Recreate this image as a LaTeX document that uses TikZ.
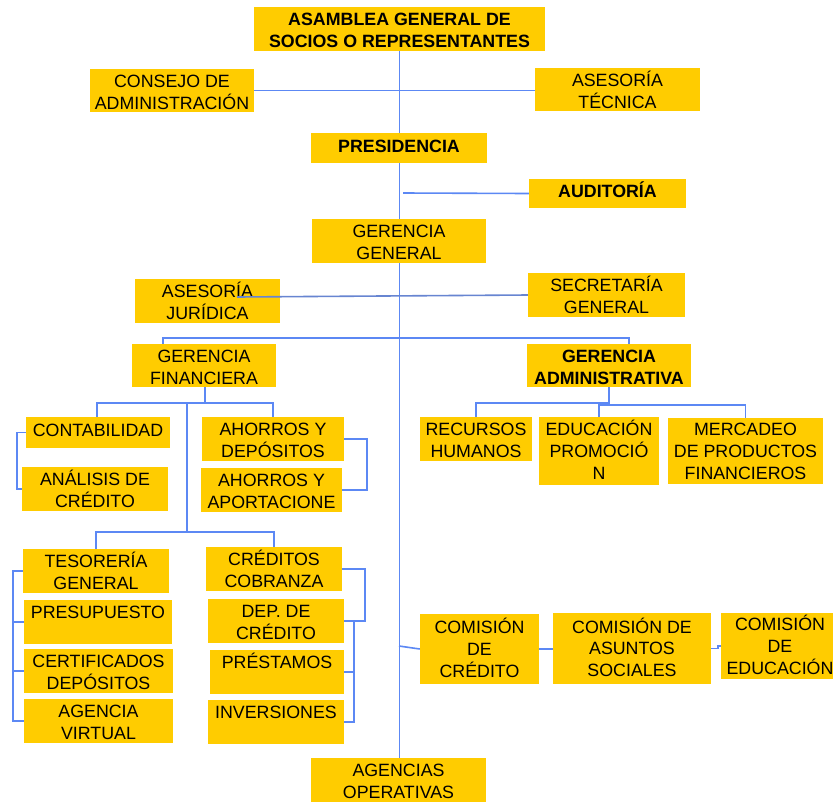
\documentclass[tikz,border=0pt]{standalone}
\usepackage{fontspec}
\setmainfont{Liberation Sans}
\usetikzlibrary{backgrounds}
\definecolor{boxyellow}{RGB}{255,204,0}
\definecolor{linkblue}{RGB}{92,136,244}
\begin{document}
\begin{tikzpicture}[x=1pt,y=-1pt,
  box/.style={fill=boxyellow, inner sep=0pt, align=center, text=black,
    font=\fontsize{17.8}{21.8}\selectfont, lines2},
  bbox/.style={box, font=\fontsize{17.8}{21.8}\selectfont\bfseries},
  % fixed text box sizes, so that every label sits at the same place in its box
  lines1/.style={text height=8.7pt, text depth=0pt},
  lines2/.style={text height=37.5pt, text depth=0pt},
  lines3/.style={text height=56.3pt, text depth=0pt},
  linetop/.style={text height=13.7pt, text depth=20pt},
  link/.style={draw=linkblue, line width=1.6pt}]
\useasboundingbox (0,0) rectangle (833,801);

% top levels
\node[bbox, minimum width=291pt, minimum height=44pt] (asamblea) at (399.5,29) {ASAMBLEA GENERAL DE\\SOCIOS O REPRESENTANTES};
\node[box, minimum width=164pt, minimum height=43pt] (consejo) at (172,90.5) {CONSEJO DE\\ADMINISTRACIÓN};
\node[box, minimum width=165pt, minimum height=43pt] (tecnica) at (617.5,89.5) {ASESORÍA\\TÉCNICA};
\node[bbox, lines1, minimum width=176pt, minimum height=30pt] (presidencia) at (399,148) {PRESIDENCIA};
\node[bbox, lines1, minimum width=157pt, minimum height=29pt] (auditoria) at (607.5,193.5) {AUDITORÍA};
\node[box, minimum width=174pt, minimum height=44pt] (gerencia) at (399,241) {GERENCIA\\GENERAL};
\node[box, minimum width=145pt, minimum height=44pt] (juridica) at (207.5,301) {ASESORÍA\\JURÍDICA};
\node[box, minimum width=157pt, minimum height=44pt] (secretaria) at (606.5,295) {SECRETARÍA\\GENERAL};
\node[box, minimum width=144pt, minimum height=43pt] (gfin) at (204,365.5) {GERENCIA\\FINANCIERA};
\node[bbox, minimum width=164pt, minimum height=43pt] (gadm) at (609,365.5) {GERENCIA\\ADMINISTRATIVA};

% financial branch
\node[box, lines1, minimum width=144pt, minimum height=31pt] (contab) at (98,432.5) {CONTABILIDAD};
\node[box, minimum width=146pt, minimum height=44pt] (analisis) at (95,489) {ANÁLISIS DE\\CRÉDITO};
\node[box, minimum width=142pt, minimum height=44pt] (ahorrosdep) at (273,439) {AHORROS Y\\DEPÓSITOS};
\node[box, minimum width=141pt, minimum height=44pt] (ahorrosap) at (271.5,490) {AHORROS Y\\APORTACIONE};
\node[box, minimum width=146pt, minimum height=44pt] (tesoreria) at (96,571) {TESORERÍA\\GENERAL};
\node[box, linetop, minimum width=148pt, minimum height=44pt] (presupuesto) at (98,622) {PRESUPUESTO};
\node[box, minimum width=149pt, minimum height=44pt] (certif) at (98.5,671) {CERTIFICADOS\\DEPÓSITOS};
\node[box, minimum width=149pt, minimum height=44pt] (agvirtual) at (98.5,721) {AGENCIA\\VIRTUAL};
\node[box, minimum width=136pt, minimum height=44pt] (creditos) at (274,569) {CRÉDITOS\\COBRANZA};
\node[box, minimum width=136pt, minimum height=44pt] (depcred) at (276,621) {DEP. DE\\CRÉDITO};
\node[box, linetop, minimum width=134pt, minimum height=44pt] (prestamos) at (277,672) {PRÉSTAMOS};
\node[box, linetop, minimum width=136pt, minimum height=44pt] (inversiones) at (276,722) {INVERSIONES};

% administrative branch
\node[box, minimum width=112pt, minimum height=44pt] (rrhh) at (476,439) {RECURSOS\\HUMANOS};
\node[box, lines3, minimum width=120pt, minimum height=68pt] (edu) at (599,451) {EDUCACIÓN\\PROMOCIÓ\\N};
\node[box, lines3, minimum width=155pt, minimum height=66pt] (mercadeo) at (745.5,451) {MERCADEO\\DE PRODUCTOS\\FINANCIEROS};

% committees and agencies
\node[box, lines3, minimum width=119pt, minimum height=70pt] (comcred) at (479.5,649) {COMISIÓN\\DE\\CRÉDITO};
\node[box, lines3, minimum width=158pt, minimum height=71pt] (comsoc) at (632,648.5) {COMISIÓN DE\\ASUNTOS\\SOCIALES};
\node[box, lines3, minimum width=118pt, minimum height=66pt] (comedu) at (780,646) {COMISIÓN\\DE\\EDUCACIÓN};
\node[box, minimum width=175pt, minimum height=44pt] (agencias) at (398.5,780) {AGENCIAS\\OPERATIVAS};

% junction points
\coordinate (audj) at (403,193);
\coordinate (jurj) at (237,297);
\coordinate (finj) at (187,403);
\coordinate (fink) at (187,532);
\coordinate (comj) at (399,646);

\begin{scope}[on background layer]
  \fill[white] (0,0) rectangle (833,801);
  % main spine
  \draw[link] (asamblea.south) -- (asamblea.south |- agencias.north);
  \draw[link] (consejo.east) -- (tecnica.west |- consejo.east);
  \draw[link] (audj) -- (auditoria.west);
  % management split
  \draw[link] ([xshift=-41pt]gfin.north) -- ++(0,-6) -| ([xshift=20pt]gadm.north);
  % financial management
  \draw[link] ([xshift=1pt]gfin.south) -- ++(0,16);
  \draw[link] ([xshift=-1pt]contab.north) -- ++(0,-14) -| (ahorrosdep.north);
  \draw[link] (finj) -- (fink);
  \draw[link] (tesoreria.north) -- ++(0,-17) -| (creditos.north);
  \draw[link] (contab.west) -- ++(-9,0) |- (analisis.west);
  \draw[link] (ahorrosdep.east) -- ++(23,0) |- (ahorrosap.east);
  \draw[link] (tesoreria.west) -- ++(-10,0) |- (agvirtual.west);
  \draw[link] (presupuesto.west) -- ++(-11,0);
  \draw[link] (certif.west) -- ++(-11,0);
  \draw[link] (creditos.east) -- ++(23,0) |- (depcred.east);
  \draw[link] (depcred.east) -- ++(10,0) |- (inversiones.east);
  \draw[link] (prestamos.east) -- ++(10,0);
  % administrative management
  \draw[link] (gadm.south) -- ++(0,16) -| (rrhh.north);
  \draw[link] (edu.north) -- ++(0,-12) -| (mercadeo.north);
  % committees
  \draw[link] (comj) -- (comcred.west);
  \draw[link] (comcred.east) -- (comsoc.west |- comcred.east);
  \draw[link] (comsoc.east) -- ++(7,0) |- (comedu.west);
\end{scope}
% legal advice line runs over its box
\draw[link, draw=linkblue!70!gray] (jurj) -- (secretaria.west);
\end{tikzpicture}
\end{document}
